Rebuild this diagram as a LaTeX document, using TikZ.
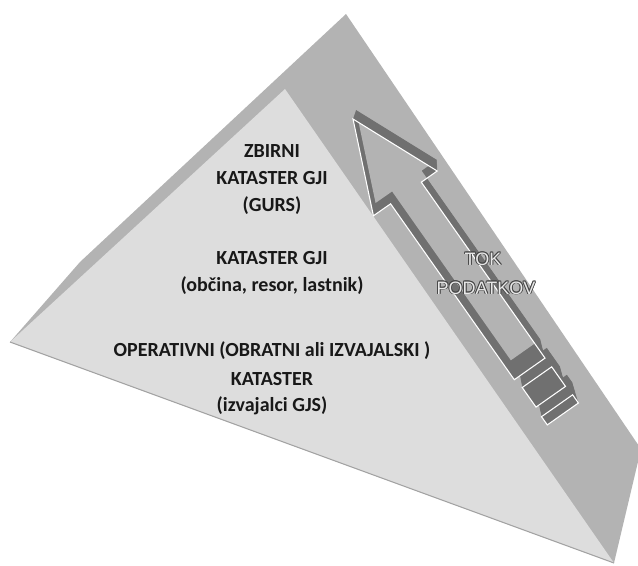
\documentclass[tikz,border=0pt]{standalone}
\usepackage{fontspec}
\setmainfont{Carlito}
\newfontfamily\arrowfont{Liberation Sans}

\definecolor{sidegray}{RGB}{179,179,179}
\definecolor{frontgray}{RGB}{221,221,221}
\definecolor{extrude}{RGB}{112,112,112}
\definecolor{rimline}{RGB}{163,163,163}
\definecolor{labelink}{RGB}{24,24,24}
\definecolor{flowfill}{RGB}{232,232,232}
\definecolor{flowedge}{RGB}{70,70,70}

% outline of the arrow body (head + shaft) and of its two tail stripes
\newcommand\arrowpath{(353,119) -- (437.2,171) -- (421.3,182.2) -- (545,358.1)
  -- (514.3,379.7) -- (390.6,203.8) -- (373.4,215.8) -- cycle}
\newcommand\stripepath{(522.2,387.5) -- (551.7,366.8) -- (565.5,386.4) -- (536,407.1) -- cycle
  (541.5,416.7) -- (572.6,394.8) -- (578.4,403) -- (547.3,424.9) -- cycle}

\begin{document}
\begin{tikzpicture}[x=0.75pt,y=-0.75pt,
  level/.style={font=\bfseries\fontsize{15}{18}\selectfont, text=labelink, anchor=base, inner sep=0pt},
  flowtxt/.style={font=\arrowfont\fontsize{13.5}{16}\selectfont, anchor=base, inner sep=0pt},
  toward/.style={shift={(428,-106)}, scale=#1, shift={(-428,106)}}]
\useasboundingbox (0,0) rectangle (638,565);
\clip (0,0) rectangle (638,565);

% pyramid: shaded side face and lit front face
\fill[sidegray] (10,342) -- (80,262) -- (346,14) -- (641,449) -- (614,563) -- cycle;
\fill[frontgray] (10,342) -- (285,89) -- (614,563) -- cycle;
\draw[rimline, line width=0.8] (10,342) -- (614,563);

% extruded arrow: sweep of the outline towards the vanishing point
\foreach \k in {1,0.998,...,0.959} {
  \begin{scope}[toward=\k]
    \fill[extrude] \arrowpath;
    \fill[extrude] \stripepath;
  \end{scope}
}
% visible part of the top face
\begin{scope}
  \clip \arrowpath;
  \begin{scope}[toward=0.96]
    \fill[sidegray] \arrowpath;
  \end{scope}
\end{scope}
% white rim of the arrow
\draw[white, line width=0.8, line join=miter] \arrowpath;
\draw[white, line width=0.8, line join=miter] \stripepath;

% level labels
\node[level] (l1a) at (272,157) {ZBIRNI};
\node[level] (l1b) at (272,184) {KATASTER GJI};
\node[level] (l1c) at (272,211.5) {(GURS)};
\node[level] (l2a) at (272,264) {KATASTER GJI};
\node[level] (l2b) at (272,291) {(občina, resor, lastnik)};
\node[level] (l3a) at (272,356.5) {OPERATIVNI (OBRATNI ali IZVAJALSKI )};
\node[level] (l3b) at (272,385) {KATASTER};
\node[level] (l3c) at (272,411.5) {(izvajalci GJS)};

% outlined label of the data flow
\foreach \dx/\dy in {-0.9/0,0.8/0,0/-0.8,0/0.9,-0.8/0.8,0.7/0.7,-0.7/-0.7,0.7/-0.7} {
  \node[flowtxt, text=flowedge] at (483+\dx,265+\dy) {TOK};
  \node[flowtxt, text=flowedge] at (486+\dx,294+\dy) {PODATKOV};
}
\node[flowtxt, text=flowfill] (tok) at (483,265) {TOK};
\node[flowtxt, text=flowfill] (podatkov) at (486,294) {PODATKOV};
\end{tikzpicture}
\end{document}
